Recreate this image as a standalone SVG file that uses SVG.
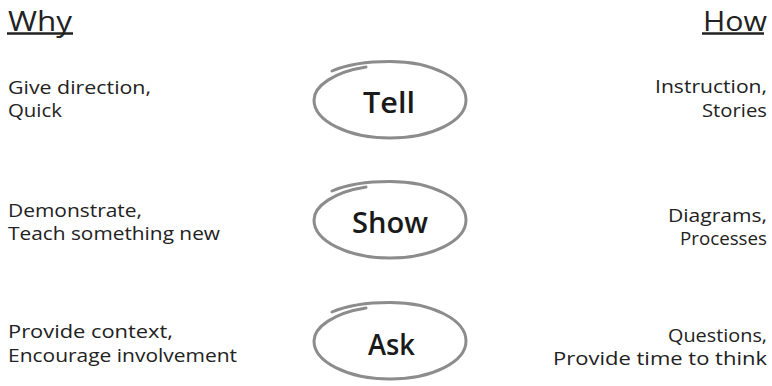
<svg xmlns="http://www.w3.org/2000/svg" xmlns:xlink="http://www.w3.org/1999/xlink" width="772" height="386" viewBox="0 0 772 386">
<style>
.t{font-family:"Open Sans","Noto Sans","DejaVu Sans",sans-serif;font-size:18px;fill:#222;}
.h{font-family:"Open Sans","Noto Sans","DejaVu Sans",sans-serif;font-size:27px;fill:#222;}
.n{font-family:"Open Sans","Noto Sans","DejaVu Sans",sans-serif;font-size:29px;font-weight:600;fill:#1a1a1a;}
.u{stroke:#222;stroke-width:2.5;}
.loop{fill:none;stroke:#8c8c8c;stroke-width:3;stroke-linecap:round;}
</style>
<defs>
<path id="loop" class="loop" d="M -58,-29 C -42,-36 -22,-38.5 0,-38.5 A 76 38.5 0 0 1 76,0 A 76 38 0 0 1 0,38 A 76 38 0 0 1 -76,0 C -76,-14 -56,-28 -24,-33"/>
</defs>
<rect width="772" height="386" fill="#fff"/>
<g id="headers">
<text class="h" x="8" y="31" textLength="64" lengthAdjust="spacingAndGlyphs">Why</text>
<line class="u" x1="7" y1="33.5" x2="73" y2="33.5"/>
<text class="h" x="703" y="31" textLength="64" lengthAdjust="spacingAndGlyphs">How</text>
<line class="u" x1="702" y1="33.5" x2="764" y2="33.5"/>
</g>
<g id="node-tell">
<use xlink:href="#loop" href="#loop" x="390" y="100"/>
<text class="n" x="363" y="113" textLength="52" lengthAdjust="spacingAndGlyphs">Tell</text>
</g>
<g id="node-show">
<use xlink:href="#loop" href="#loop" x="390" y="220"/>
<text class="n" x="352" y="233" textLength="76" lengthAdjust="spacingAndGlyphs">Show</text>
</g>
<g id="node-ask">
<use xlink:href="#loop" href="#loop" x="390" y="341"/>
<text class="n" x="368" y="355" textLength="47" lengthAdjust="spacingAndGlyphs">Ask</text>
</g>
<g id="why-tell">
<text class="t" x="8" y="94" textLength="143" lengthAdjust="spacingAndGlyphs">Give direction,</text>
<text class="t" x="8" y="117" textLength="54" lengthAdjust="spacingAndGlyphs">Quick</text>
</g>
<g id="why-show">
<text class="t" x="8" y="217" textLength="134" lengthAdjust="spacingAndGlyphs">Demonstrate,</text>
<text class="t" x="8" y="240" textLength="212" lengthAdjust="spacingAndGlyphs">Teach something new</text>
</g>
<g id="why-ask">
<text class="t" x="8" y="338" textLength="165" lengthAdjust="spacingAndGlyphs">Provide context,</text>
<text class="t" x="8" y="362" textLength="229" lengthAdjust="spacingAndGlyphs">Encourage involvement</text>
</g>
<g id="how-tell">
<text class="t" x="655" y="93" textLength="112" lengthAdjust="spacingAndGlyphs">Instruction,</text>
<text class="t" x="702" y="117" textLength="65" lengthAdjust="spacingAndGlyphs">Stories</text>
</g>
<g id="how-show">
<text class="t" x="668" y="222" textLength="99" lengthAdjust="spacingAndGlyphs">Diagrams,</text>
<text class="t" x="680" y="245" textLength="87" lengthAdjust="spacingAndGlyphs">Processes</text>
</g>
<g id="how-ask">
<text class="t" x="668" y="342" textLength="99" lengthAdjust="spacingAndGlyphs">Questions,</text>
<text class="t" x="553" y="365" textLength="214" lengthAdjust="spacingAndGlyphs">Provide time to think</text>
</g>
<g id="connectors"></g>
</svg>
